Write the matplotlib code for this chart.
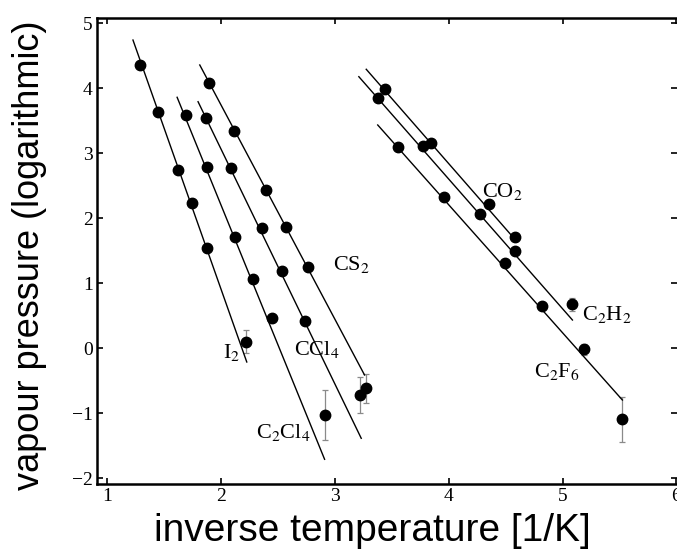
import matplotlib
matplotlib.use("Agg")
import matplotlib.pyplot as plt

plt.rcParams['mathtext.fontset'] = 'stix'

# measured points (inverse temperature, log vapour pressure, error)
i2_x = [1.285, 1.440, 1.621, 1.747, 1.875, 2.215]
i2_y = [4.354, 3.635, 2.738, 2.226, 1.534, 0.097]
i2_err = [0, 0, 0, 0, 0, 0.18]

c2cl4_x = [1.686, 1.875, 2.125, 2.279, 2.449, 2.908]
c2cl4_y = [3.585, 2.789, 1.712, 1.062, 0.466, -1.031]
c2cl4_err = [0, 0, 0, 0, 0, 0.39]

ccl4_x = [1.867, 2.089, 2.361, 2.533, 2.732, 3.215]
ccl4_y = [3.534, 2.765, 1.842, 1.185, 0.415, -0.723]
ccl4_err = [0, 0, 0, 0, 0, 0.28]

cs2_x = [1.893, 2.112, 2.396, 2.572, 2.761, 3.268]
cs2_y = [4.072, 3.343, 2.431, 1.866, 1.251, -0.620]
cs2_err = [0, 0, 0, 0, 0.05, 0.22]

co2_x = [3.443, 3.844, 4.355, 4.583]
co2_y = [3.985, 3.149, 2.211, 1.703]
co2_err = [0, 0, 0, 0]

c2h2_x = [3.375, 3.770, 4.276, 4.583, 5.086]
c2h2_y = [3.851, 3.108, 2.062, 1.497, 0.672]
c2h2_err = [0, 0, 0, 0, 0.1]

c2f6_x = [3.551, 3.961, 4.496, 4.818, 5.189, 5.525]
c2f6_y = [3.088, 2.318, 1.312, 0.651, -0.020, -1.097]
c2f6_err = [0, 0, 0, 0, 0.08, 0.35]

# fitted lines: (x start, x end), (y start, y end)
fit_lines = {
    'I2': ([1.224, 2.224], [4.738, -0.215]),
    'C2Cl4': ([1.612, 2.908], [3.857, -1.712]),
    'CCl4': ([1.796, 3.230], [3.789, -1.389]),
    'CS2': ([1.811, 3.259], [4.354, -0.415]),
    'CO2': ([3.274, 4.601], [4.288, 1.631]),
    'C2H2': ([3.209, 5.086], [4.174, 0.431]),
    'C2F6': ([3.375, 5.525], [3.431, -0.800]),
}

labels = ['I$_2$', 'C$_2$Cl$_4$', 'CCl$_4$', 'CS$_2$', 'CO$_2$', 'C$_2$H$_2$', 'C$_2$F$_6$']
label_x = [2.013, 2.309, 2.636, 2.978, 4.291, 5.168, 4.750]
label_y = [-0.154, -1.385, -0.108, 1.200, 2.328, 0.431, -0.440]

series = [
    (i2_x, i2_y, i2_err),
    (c2cl4_x, c2cl4_y, c2cl4_err),
    (ccl4_x, ccl4_y, ccl4_err),
    (cs2_x, cs2_y, cs2_err),
    (co2_x, co2_y, co2_err),
    (c2h2_x, c2h2_y, c2h2_err),
    (c2f6_x, c2f6_y, c2f6_err),
]

fig = plt.figure(figsize=(6.77, 5.52), dpi=100)
ax = fig.add_axes([0.1433, 0.1232, 0.8567, 0.8442])

for name, (lx, ly) in fit_lines.items():
    ax.plot(lx, ly, color='black', lw=1.0, zorder=2)

for xs, ys, errs in series:
    ax.errorbar(xs, ys, yerr=errs, fmt='none', ecolor='#8a8a8a', elinewidth=0.9,
                capsize=2, capthick=0.9, zorder=1)
    ax.plot(xs, ys, 'o', color='black', markersize=7.5, zorder=3)

for txt, tx, ty in zip(labels, label_x, label_y):
    ax.text(tx, ty, txt, fontsize=16, family='Liberation Serif', va='baseline', ha='left')

ax.set_xlim(0.908, 6.005)
ax.set_ylim(-2.092, 5.077)
ax.set_xticks([1, 2, 3, 4, 5, 6])
ax.set_yticks([-2, -1, 0, 1, 2, 3, 4, 5])
ax.tick_params(direction='in', length=4, width=1.2, top=True, right=True,
               labelsize=14, pad=3)
for lab in ax.get_xticklabels() + ax.get_yticklabels():
    lab.set_family('Liberation Serif')
for side in ['left', 'bottom', 'top']:
    ax.spines[side].set_linewidth(1.8)
ax.spines['right'].set_visible(False)

ax.set_xlabel('inverse temperature [1/K]', fontsize=28, family='Liberation Sans')
ax.set_ylabel('vapour pressure (logarithmic)', fontsize=26, family='Liberation Sans')
ax.xaxis.set_label_coords(0.474, -0.062)
ax.yaxis.set_label_coords(-0.086, 0.491)

fig.savefig('out.png', dpi=100)
